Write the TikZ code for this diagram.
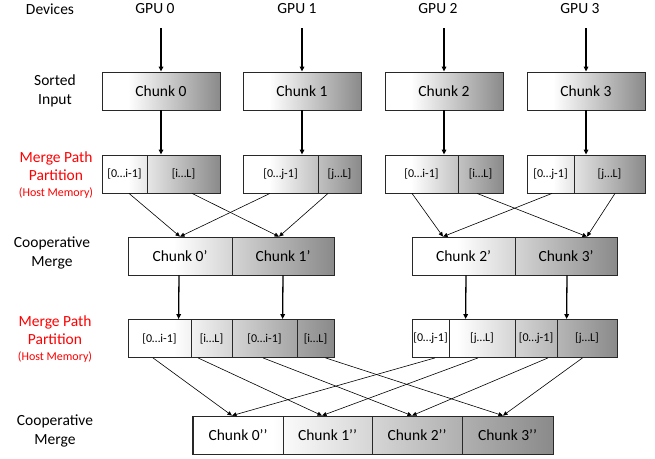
\documentclass[tikz,border=0pt]{standalone}
\usepackage{fontspec}
\setmainfont{Carlito}
\usetikzlibrary{arrows.meta,calc}
\definecolor{gradgray}{RGB}{138,138,138}
\definecolor{edge}{RGB}{40,40,40}
\pgfdeclarehorizontalshading{gs}{100bp}{color(0bp)=(white); color(25bp)=(white); color(36bp)=(white); color(75bp)=(gradgray); color(100bp)=(gradgray)}
\tikzset{
  lbl/.style={font=\fontsize{15.5}{18.5}\selectfont, align=center, inner sep=0},
  redlbl/.style={font=\fontsize{15.5}{18.5}\selectfont, align=center, inner sep=0, text=red},
  shbox/.style={shade, shading=gs, draw=edge, line width=0.8pt, minimum height=38, inner sep=0},
  chunkbox/.style={draw=edge, line width=0.8pt, minimum height=38, inner sep=0, font=\fontsize{15.5}{18}\selectfont},
  segbox/.style={draw=edge, line width=0.8pt, minimum height=38, inner sep=0, font=\fontsize{12}{14}\selectfont},
  bigar/.style={-{Triangle[length=5pt,width=4.5pt]}, line width=1.3pt},
  thinar/.style={-{Triangle[length=4.5pt,width=4pt]}, line width=0.6pt}
}
\begin{document}
\begin{tikzpicture}[x=1pt,y=-1pt]
\useasboundingbox (0,0) rectangle (655,458);
% left labels
\node[lbl] (dev) at (50,9) {Devices};
\node[lbl] (sorted) at (55,91) {Sorted\\Input};
\node[redlbl] (mpp1) at (56,166) {Merge Path\\Partition};
\node[text=red, font=\fontsize{12}{14}\selectfont, inner sep=0] (hm1) at (56,193) {(Host Memory)};
\node[lbl] (cm1) at (52,253) {Cooperative\\Merge};
\node[redlbl] (mpp2) at (55,330) {Merge Path\\Partition};
\node[text=red, font=\fontsize{12}{14}\selectfont, inner sep=0] (hm2) at (55,357) {(Host Memory)};
\node[lbl] (cm2) at (55,431) {Cooperative\\Merge};
% GPU labels
\node[lbl] (g0) at (155,9) {GPU 0};
\node[lbl] (g1) at (297,9) {GPU 1};
\node[lbl] (g2) at (438,9) {GPU 2};
\node[lbl] (g3) at (580,9) {GPU 3};
\coordinate (s0) at (161,28);
\coordinate (s1) at (302,28);
\coordinate (s2) at (444,28);
\coordinate (s3) at (586,28);
% row 1 chunks
\node[shbox, chunkbox, minimum width=118] (c0) at (161,91) {Chunk 0};
\node[shbox, chunkbox, minimum width=118] (c1) at (302,91) {Chunk 1};
\node[shbox, chunkbox, minimum width=118] (c2) at (444,91) {Chunk 2};
\node[shbox, chunkbox, minimum width=118] (c3) at (586,91) {Chunk 3};
\foreach \i in {0,1,2,3}{\draw[bigar] (s\i) -- (c\i.north);}
% partition row 1
\node[shbox, minimum width=118] (p0) at (161,174) {};
\node[segbox, minimum width=45] (p0a) at (124.5,174) {[0…i-1]};
\node[segbox, minimum width=73] (p0b) at (183.5,174) {[i…L]};
\node[shbox, minimum width=118] (p1) at (302,174) {};
\node[segbox, minimum width=75] (p1a) at (280.5,174) {[0…j-1]};
\node[segbox, minimum width=43] (p1b) at (339.5,174) {[j…L]};
\node[shbox, minimum width=118] (p2) at (444,174) {};
\node[segbox, minimum width=73] (p2a) at (421.5,174) {[0…i-1]};
\node[segbox, minimum width=45] (p2b) at (480.5,174) {[i…L]};
\node[shbox, minimum width=118] (p3) at (586,174) {};
\node[segbox, minimum width=47] (p3a) at (550.5,174) {[0…j-1]};
\node[segbox, minimum width=71] (p3b) at (609.5,174) {[j…L]};
\foreach \i in {0,1,2,3}{\draw[bigar] (c\i.south) -- (p\i.north);}
% cooperative merge row 1
\node[shbox, minimum width=206] (m0) at (231,256) {};
\node[chunkbox, minimum width=104] (m0a) at (180,256) {Chunk 0’};
\node[chunkbox, minimum width=102] (m0b) at (283,256) {Chunk 1’};
\node[shbox, minimum width=205] (m1) at (514.5,256) {};
\node[chunkbox, minimum width=103] (m1a) at (463.5,256) {Chunk 2’};
\node[chunkbox, minimum width=102] (m1b) at (566,256) {Chunk 3’};
% crossing lines row 1
\draw[thinar] ($(p0a.south)+(4.5,0)$) -- ($(m0a.north)+(0,0)$);
\draw[thinar] ($(p1a.south)+(-10.5,0)$) -- ($(m0a.north)+(0,0)$);
\draw[thinar] ($(p0b.south)+(8.5,0)$) -- ($(m0b.north)+(-4,0)$);
\draw[thinar] ($(p1b.south)+(-11.5,0)$) -- ($(m0b.north)+(-4,0)$);
\draw[thinar] ($(p2a.south)+(-9.5,0)$) -- ($(m1a.north)+(-20.5,0)$);
\draw[thinar] ($(p3a.south)+(1.5,0)$) -- ($(m1a.north)+(-20.5,0)$);
\draw[thinar] ($(p2b.south)+(-3.5,0)$) -- ($(m1b.north)+(21,0)$);
\draw[thinar] ($(p3b.south)+(5.5,0)$) -- ($(m1b.north)+(21,0)$);
% partition row 2
\node[shbox, minimum width=206] (q0) at (231,338.5) {};
\node[segbox, minimum width=63] (q0a) at (159.5,338.5) {[0…i-1]};
\node[segbox, minimum width=41] (q0b) at (211.5,338.5) {[i…L]};
\node[segbox, minimum width=65] (q0c) at (264.5,338.5) {[0…i-1]};
\node[segbox, minimum width=37] (q0d) at (315.5,338.5) {[i…L]};
\node[shbox, minimum width=205] (q1) at (514.5,338.5) {};
\node[segbox, minimum width=37] (q1a) at (430.5,338.5) {[0…j-1]};
\node[segbox, minimum width=66] (q1b) at (482,338.5) {[j…L]};
\node[segbox, minimum width=42] (q1c) at (536,338.5) {[0…j-1]};
\node[segbox, minimum width=60] (q1d) at (587,338.5) {[j…L]};
\draw[bigar] ($(m0a.south)+(-1,0)$) -- ($(q0.north west)+(51,0)$);
\draw[bigar] (m0b.south) -- ($(q0.north west)+(155,0)$);
\draw[bigar] ($(m1a.south)+(2.5,0)$) -- ($(q1.north west)+(54,0)$);
\draw[bigar] ($(m1b.south)+(1,0)$) -- ($(q1.north west)+(155,0)$);
% final merge
\node[shbox, minimum width=361] (f) at (373,435) {};
\node[chunkbox, minimum width=90] (f0) at (238,435) {Chunk 0’’};
\node[chunkbox, minimum width=89] (f1) at (327.5,435) {Chunk 1’’};
\node[chunkbox, minimum width=90] (f2) at (417,435) {Chunk 2’’};
\node[chunkbox, minimum width=91] (f3) at (507.5,435) {Chunk 3’’};
\draw[thinar] ($(q0a.south)+(-6.5,0)$) -- ($(f0.north)+(-6,0)$);
\draw[thinar] ($(q1a.south)+(4.5,0)$) -- ($(f0.north)+(-6,0)$);
\draw[thinar] ($(q0b.south)+(-13.5,0)$) -- ($(f1.north)+(-5.5,0)$);
\draw[thinar] ($(q1b.south)+(-4,0)$) -- ($(f1.north)+(-5.5,0)$);
\draw[thinar] ($(q0c.south)+(-1.5,0)$) -- ($(f2.north)+(-5,0)$);
\draw[thinar] ($(q1c.south)+(12,0)$) -- ($(f2.north)+(-5,0)$);
\draw[thinar] ($(q0d.south)+(10,0)$) -- ($(f3.north)+(-4.5,0)$);
\draw[thinar] ($(q1d.south)+(-4.5,0)$) -- ($(f3.north)+(-4.5,0)$);
\end{tikzpicture}
\end{document}
